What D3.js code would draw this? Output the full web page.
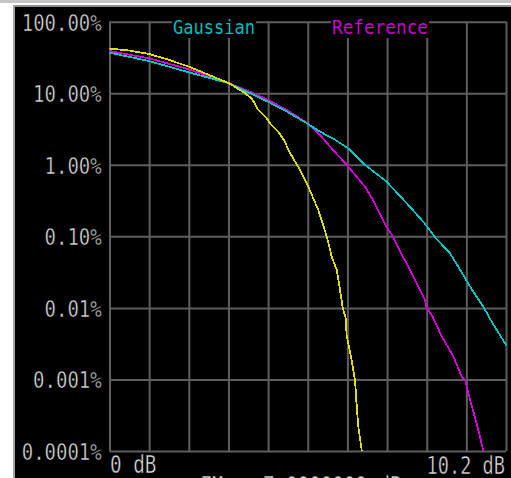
<!DOCTYPE html>
<html>
<head>
<meta charset="utf-8">
<script src="https://cdn.jsdelivr.net/npm/d3@7"></script>
<style>
  html, body { margin: 0; padding: 0; background: #ffffff; overflow: hidden; }
  svg { display: block; }
  .lbl { font-family: "DejaVu Sans Mono", "Liberation Mono", monospace; stroke: #000; stroke-width: 0.5px; }
  .lbl.legend { stroke-width: 0.15px; }
</style>
</head>
<body>
<svg id="chart" width="511" height="478"></svg>
<script>
// CCDF traces: power above average (dB) vs. probability (%)
const gaussianDb  = [0, 1.016, 2.045, 3.074, 3.615, 4.078, 4.566, 5.081, 5.416, 5.75, 6.136, 6.573, 7.13, 7.646, 8.073, 8.374, 8.76, 9.102, 9.275, 9.617, 9.833, 10.175, 10.2];
const gaussianPct = [36.9, 28.2, 19.6, 13.8, 10.0, 7.62, 5.52, 3.80, 2.90, 2.34, 1.70, 1.00, 0.58, 0.29, 0.16, 0.097, 0.058, 0.0288, 0.0198, 0.0104, 0.0064, 0.0032, 0.0030];

const referenceDb  = [0, 1.016, 2.045, 2.843, 3.615, 4.078, 4.566, 5.081, 5.416, 5.75, 6.10, 6.573, 6.779, 7.13, 7.29, 7.55, 7.73, 7.90, 8.117, 8.16, 8.315, 8.546, 8.845, 9.061, 9.146, 9.23, 9.447, 9.532, 9.617];
const referencePct = [38.9, 30.8, 21.6, 15.3, 10.5, 8.05, 5.83, 3.84, 2.61, 1.61, 1.00, 0.494, 0.322, 0.136, 0.10, 0.052, 0.034, 0.022, 0.0129, 0.0100, 0.0075, 0.0040, 0.0021, 0.00109, 0.0010, 0.00064, 0.00024, 0.000158, 0.0001];

const measuredDb  = [0, 0.5, 1.016, 1.5, 2.045, 3.074, 3.486, 3.658, 3.828, 4.044, 4.129, 4.343, 4.515, 4.60, 4.901, 5.114, 5.372, 5.588, 5.717, 5.845, 5.93, 6.0, 6.077, 6.10, 6.23, 6.316, 6.36, 6.40, 6.49];
const measuredPct = [42.2, 39.6, 35.4, 29.6, 23.5, 13.8, 10.0, 8.5, 5.83, 4.47, 3.80, 2.90, 2.10, 1.61, 0.846, 0.494, 0.233, 0.10, 0.052, 0.034, 0.0178, 0.01, 0.0072, 0.0042, 0.00187, 0.00098, 0.00042, 0.00022, 0.0001];

const yTicks      = [100, 10, 1, 0.1, 0.01, 0.001, 0.0001];
const yTickLabels = ["100.00%", "10.00%", "1.00%", "0.10%", "0.01%", "0.001%", "0.0001%"];
const xDivisions  = 10;
const xSpanDb     = 10.2;
const xEndLabels  = ["0 dB", "10.2 dB"];
const legendNames = ["Gaussian", "Reference"];

const COL = {
  gaussian: "#00c8c8",
  reference: "#d800d8",
  measured: "#e0e000",
  grid: "#5e5e5e",
  text: "#dcdcdc"
};

const svg = d3.select("#chart");

// screen frame
svg.append("rect").attr("x", 0).attr("y", 0).attr("width", 511).attr("height", 478).attr("fill", "#ffffff");
svg.append("rect").attr("x", 0).attr("y", 0).attr("width", 511).attr("height", 3).attr("fill", "#c4c4c4");
svg.append("rect").attr("x", 13).attr("y", 5).attr("width", 498).attr("height", 2).attr("fill", "#8e8e8e");
svg.append("rect").attr("x", 13).attr("y", 5).attr("width", 2).attr("height", 473).attr("fill", "#a4a4a4");
svg.append("rect").attr("x", 15).attr("y", 7).attr("width", 496).attr("height", 471).attr("fill", "#000000");

const plotL = 109.5, plotR = 506, plotT = 21.7, plotB = 451;

const x = d3.scaleLinear().domain([0, xSpanDb]).range([plotL, plotR]);
const y = d3.scaleLog().domain([0.0001, 100]).range([plotB, plotT]);

// graticule
const xGrid = d3.range(0, xDivisions + 1).map(i => i * xSpanDb / xDivisions);
const grid = svg.append("g");
grid.append("g")
  .attr("transform", `translate(0,${plotB})`)
  .call(d3.axisBottom(x).tickValues(xGrid).tickSize(-(plotB - plotT)).tickFormat(""))
  .call(g => g.select(".domain").remove())
  .call(g => g.selectAll("line").attr("stroke", COL.grid).attr("stroke-width", 2));
grid.append("g")
  .attr("transform", `translate(${plotL},0)`)
  .call(d3.axisLeft(y).tickValues(yTicks).tickSize(-(plotR - plotL)).tickFormat(""))
  .call(g => g.select(".domain").remove())
  .call(g => g.selectAll("line").attr("stroke", COL.grid).attr("stroke-width", 2));

// legend titles sit on the top edge of the graticule
const legendBoxes = [
  { name: legendNames[0], x0: 172, x1: 256, color: COL.gaussian },
  { name: legendNames[1], x0: 331, x1: 429, color: COL.reference }
];
legendBoxes.forEach(b => {
  svg.append("rect").attr("x", b.x0).attr("y", 8).attr("width", b.x1 - b.x0).attr("height", 30).attr("fill", "#000");
  svg.append("text").attr("class", "lbl legend")
    .attr("x", b.x0 + 1).attr("y", 33.5)
    .attr("font-size", 19.5)
    .attr("fill", b.color)
    .attr("textLength", b.x1 - b.x0 - 2)
    .attr("lengthAdjust", "spacingAndGlyphs")
    .text(b.name);
});

// traces
const line = d3.line().x(d => x(d[0])).y(d => y(d[1]));
const traces = [
  { db: referenceDb, pct: referencePct, color: COL.reference },
  { db: gaussianDb,  pct: gaussianPct,  color: COL.gaussian },
  { db: measuredDb,  pct: measuredPct,  color: COL.measured }
];
traces.forEach(t => {
  svg.append("path")
    .datum(d3.zip(t.db, t.pct))
    .attr("d", line)
    .attr("fill", "none")
    .attr("stroke", t.color)
    .attr("stroke-width", 1.8)
    .attr("shape-rendering", "crispEdges");
});

// probability axis labels
svg.append("g")
  .attr("transform", `translate(${plotL},0)`)
  .call(d3.axisLeft(y).tickValues(yTicks).tickSize(0).tickPadding(7.8)
    .tickFormat((d, i) => yTickLabels[i]))
  .call(g => g.select(".domain").remove())
  .call(g => g.selectAll("text")
    .attr("class", "lbl")
    .attr("font-size", 23.5)
    .attr("fill", COL.text)
    .attr("dy", "0.36em")
    .each(function(d, i) {
      d3.select(this).attr("textLength", yTickLabels[i].length * 11.43).attr("lengthAdjust", "spacingAndGlyphs");
    }));

// power axis end labels
svg.append("text").attr("class", "lbl")
  .attr("x", x(0) + 0.5).attr("y", 473)
  .attr("font-size", 24).attr("fill", COL.text)
  .attr("textLength", xEndLabels[0].length * 11.6).attr("lengthAdjust", "spacingAndGlyphs")
  .text(xEndLabels[0]);
svg.append("text").attr("class", "lbl")
  .attr("x", x(xSpanDb) - 1).attr("y", 474)
  .attr("text-anchor", "end")
  .attr("font-size", 24).attr("fill", COL.text)
  .attr("textLength", xEndLabels[1].length * 11.2).attr("lengthAdjust", "spacingAndGlyphs")
  .text(xEndLabels[1]);

// status line below the screen (only its top edge is visible)
svg.append("text").attr("class", "lbl")
  .attr("x", 201).attr("y", 494).attr("font-size", 24).attr("fill", COL.text)
  .attr("textLength", 22).attr("lengthAdjust", "spacingAndGlyphs")
  .text("7M");
svg.append("text").attr("class", "lbl")
  .attr("x", 263).attr("y", 494).attr("font-size", 24).attr("fill", COL.text)
  .attr("textLength", 150).attr("lengthAdjust", "spacingAndGlyphs")
  .text("7.0000000 dBm");
</script>
</body>
</html>
